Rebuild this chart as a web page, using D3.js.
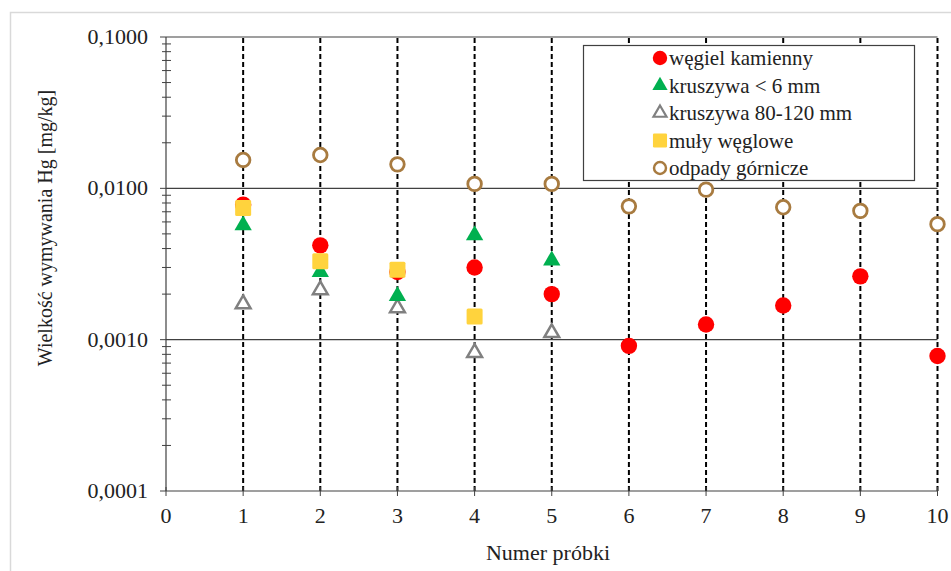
<!DOCTYPE html>
<html><head><meta charset="utf-8">
<script src="https://cdn.jsdelivr.net/npm/d3@7"></script>
<style>body{margin:0;background:#fff}svg{display:block}text{font-family:"Liberation Serif","Times New Roman",serif;fill:#222}</style>
</head><body><svg id="c" width="951" height="571"></svg>
<script>
const samples = [1,2,3,4,5,6,7,8,9,10];
const xTicks = [0,1,2,3,4,5,6,7,8,9,10];
const yTicks = [0.0001,0.001,0.01,0.1];
const yTickLabels = ["0,0001","0,0010","0,0100","0,1000"];
const wegiel = [0.0078,0.0042,0.0028,0.0030,0.0020,0.00091,0.00126,0.00168,0.00262,0.00078];
const kruszywaDrobne = [0.0057,0.0028,0.00194,0.0049,0.00334];
const kruszywaGrube = [0.00172,0.00213,0.00162,0.00082,0.00111];
const muly = [0.0074,0.0033,0.0029,0.00142];
const odpady = [0.0154,0.0166,0.0144,0.0107,0.0107,0.0076,0.0098,0.0075,0.0071,0.0058];
const legendLabels = ["węgiel kamienny","kruszywa < 6 mm","kruszywa 80-120 mm","muły węglowe","odpady górnicze"];

const svg = d3.select("#c");
svg.append("rect").attr("x",10.5).attr("y",12.5).attr("width",960).attr("height",600)
  .attr("fill","#fff").attr("stroke","#d9d9d9").attr("stroke-width",1.5);

const L=166, R=937.5, T=37, B=491;
const x = d3.scaleLinear().domain([0,10]).range([L,R]);
const y = d3.scaleLog().domain([0.0001,0.1]).range([B,T]);

// gridlines
const g = svg.append("g");
g.selectAll("line.grid").data([0.001,0.01,0.1]).join("line")
  .attr("x1",L).attr("x2",R).attr("y1",d=>y(d)).attr("y2",d=>y(d))
  .attr("stroke","#404040").attr("stroke-width",1.2);

// dashed verticals
g.selectAll("line.v").data(samples).join("line")
  .attr("x1",d=>x(d)).attr("x2",d=>x(d)).attr("y1",B).attr("y2",T)
  .attr("stroke","#000").attr("stroke-width",2).attr("stroke-dasharray","5,3");

// y axis
const minor=[];
for(let e=-4;e<-1;e++) for(let k=2;k<=9;k++) minor.push(k*Math.pow(10,e));
const ya = svg.append("g");
ya.append("line").attr("x1",L).attr("x2",L).attr("y1",T).attr("y2",B).attr("stroke","#404040").attr("stroke-width",1.2);
ya.selectAll("line.mi").data(minor).join("line").attr("x1",L-4).attr("x2",L+5)
  .attr("y1",d=>y(d)).attr("y2",d=>y(d)).attr("stroke","#404040");
ya.selectAll("line.ma").data(yTicks).join("line").attr("x1",L-6).attr("x2",L)
  .attr("y1",d=>y(d)).attr("y2",d=>y(d)).attr("stroke","#404040");
ya.selectAll("text").data(yTicks).join("text").attr("x",148).attr("y",d=>y(d)+7)
  .attr("text-anchor","end").attr("font-size",22).text((d,i)=>yTickLabels[i]);

// x axis
const xa = svg.append("g");
xa.append("line").attr("x1",L).attr("x2",R).attr("y1",B).attr("y2",B).attr("stroke","#404040").attr("stroke-width",1.2);
xa.selectAll("line.t").data(xTicks).join("line").attr("x1",d=>x(d)).attr("x2",d=>x(d))
  .attr("y1",B-4).attr("y2",B+5).attr("stroke","#404040");
xa.selectAll("text").data(xTicks).join("text").attr("x",d=>x(d)).attr("y",523)
  .attr("text-anchor","middle").attr("font-size",22).text(d=>d);

svg.append("text").attr("x",548).attr("y",560).attr("text-anchor","middle").attr("font-size",22).text("Numer próbki");
svg.append("text").attr("transform","translate(52,228) rotate(-90)").attr("text-anchor","middle")
  .attr("font-size",20).text("Wielkość wymywania Hg [mg/kg]");

// markers
const triPath = d3.symbol().type(d3.symbolTriangle).size(130)();
const triPath2 = d3.symbol().type(d3.symbolTriangle).size(95)();
const m = svg.append("g");
function drawOdpady(sel){ sel.append("circle").attr("r",6.8).attr("fill","#fff").attr("stroke","#a87b40").attr("stroke-width",2.8); }
function drawWegiel(sel){ sel.append("circle").attr("r",8.2).attr("fill","#ff0000"); }
function drawDrobne(sel){ sel.append("path").attr("d",triPath).attr("fill","#00b050"); }
function drawGrube(sel){ sel.append("path").attr("d",triPath2).attr("fill","#fff").attr("stroke","#808080").attr("stroke-width",2.5); }
function drawMuly(sel){ sel.append("rect").attr("x",-8).attr("y",-8).attr("width",16).attr("height",16).attr("rx",1.5).attr("fill","#ffd33d"); }

const series = [
  {vals:odpady, draw:drawOdpady},
  {vals:kruszywaGrube, draw:drawGrube},
  {vals:kruszywaDrobne, draw:drawDrobne},
  {vals:wegiel, draw:drawWegiel},
  {vals:muly, draw:drawMuly}
];
series.forEach(s=>{
  s.vals.forEach((v,i)=>{
    const gg = m.append("g").attr("transform",`translate(${x(samples[i])},${y(v)})`);
    s.draw(gg);
  });
});

// legend
const lg = svg.append("g");
lg.append("rect").attr("x",583.5).attr("y",45.5).attr("width",331).attr("height",135)
  .attr("fill","#fff").attr("stroke","#404040").attr("stroke-width",1.2);
const legDraw=[drawWegiel,drawDrobne,drawGrube,drawMuly,drawOdpady];
legendLabels.forEach((t,i)=>{
  const cy = 58+i*27.5;
  const gg = lg.append("g").attr("transform",`translate(660,${cy}) scale(0.88)`);
  legDraw[i](gg);
  lg.append("text").attr("x",669).attr("y",cy+7).attr("font-size",21).text(t);
});
</script></body></html>
